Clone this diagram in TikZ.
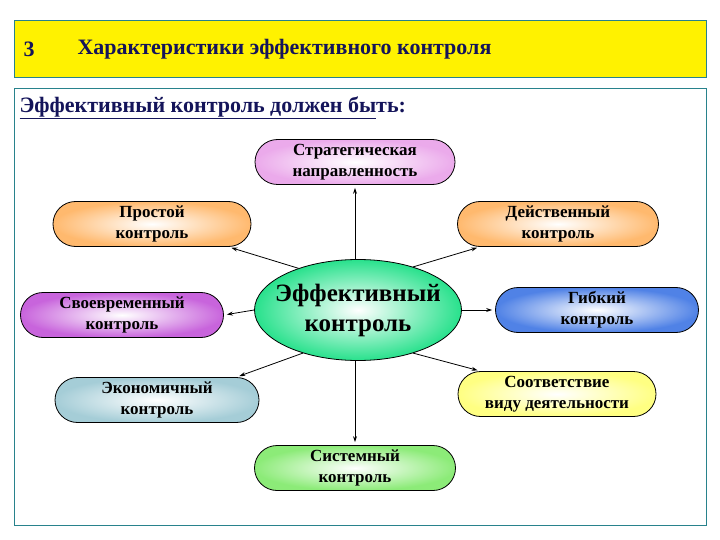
\documentclass[tikz,border=0pt]{standalone}
\usepackage{fontspec}
\setmainfont{Liberation Serif}
\usetikzlibrary{shapes.misc,shapes.geometric,arrows.meta}
\definecolor{navy}{RGB}{20,20,90}
\definecolor{cpink}{RGB}{235,170,235}
\definecolor{corange}{RGB}{255,185,110}
\definecolor{cpurple}{RGB}{200,100,220}
\definecolor{cgreenE}{RGB}{40,225,140}
\definecolor{cblue}{RGB}{80,130,230}
\definecolor{cgray}{RGB}{165,205,215}
\definecolor{cyellow}{RGB}{255,255,130}
\definecolor{cgreen}{RGB}{140,235,120}
\definecolor{teal}{RGB}{40,130,140}
\begin{document}
\begin{tikzpicture}[x=1pt,y=-1pt,
  pill/.style={rounded rectangle, draw=black, thick, minimum width=#1, minimum height=45pt, inner sep=1pt, align=center, font=\bfseries\fontsize{17}{21}\selectfont, inner color=white},
  arr/.style={-{Stealth[length=6pt,width=4pt]}, thick, shorten >=3pt}]
\useasboundingbox (0,0) rectangle (720,540);
\fill[white] (0,0) rectangle (720,540);
\draw[teal, fill=yellow, thick] (14,20) rectangle (706,77);
\node[anchor=west, font=\bfseries\fontsize{22}{26}\selectfont, text=navy] (num) at (20,49) {3};
\node[anchor=west, font=\bfseries\fontsize{22}{26}\selectfont, text=navy] (title) at (74,49) {Характеристики эффективного контроля};
\draw[teal, thick] (14,88) rectangle (706,525);
\node[anchor=west, font=\bfseries\fontsize{22}{26}\selectfont, text=navy] (sub) at (16,108) {\underline{Эффективный контроль должен бы}ть:};
\node[pill=202pt, outer color=cpink] (s) at (355,162) {Стратегическая\\направленность};
\node[pill=200pt, outer color=corange] (p) at (152,224) {Простой\\контроль};
\node[pill=203pt, outer color=corange] (d) at (558,224) {Действенный\\контроль};
\node[pill=205pt, outer color=cpurple] (v) at (122,315) {Своевременный\\контроль};
\node[pill=205pt, outer color=cblue] (g) at (597,310) {Гибкий\\контроль};
\node[pill=206pt, outer color=cgray] (e) at (157,400) {Экономичный\\контроль};
\node[pill=200pt, outer color=cyellow] (o) at (557,394) {Соответствие\\виду деятельности};
\node[pill=203pt, outer color=cgreen] (m) at (355,468) {Системный\\контроль};
\node[ellipse, draw=black, thick, minimum width=207pt, minimum height=101pt, inner sep=-14pt, inner color=white, outer color=cgreenE, align=center, font=\bfseries\fontsize{25}{30}\selectfont] (c) at (358,310) {Эффективный\\контроль};
\draw[arr] (c.north -| s.south) -- (s.south);
\draw[arr] (c.145) -- (p.south east);
\draw[arr] (c.38) -- (d.south west);
\draw[arr] (c.west) -- (v.east);
\draw[arr] (c.east) -- (g.west);
\draw[arr] (c.218) -- (e.north east);
\draw[arr] (c.322) -- (o.north west);
\draw[arr] (c.south -| m.north) -- (m.north);
\end{tikzpicture}
\end{document}
